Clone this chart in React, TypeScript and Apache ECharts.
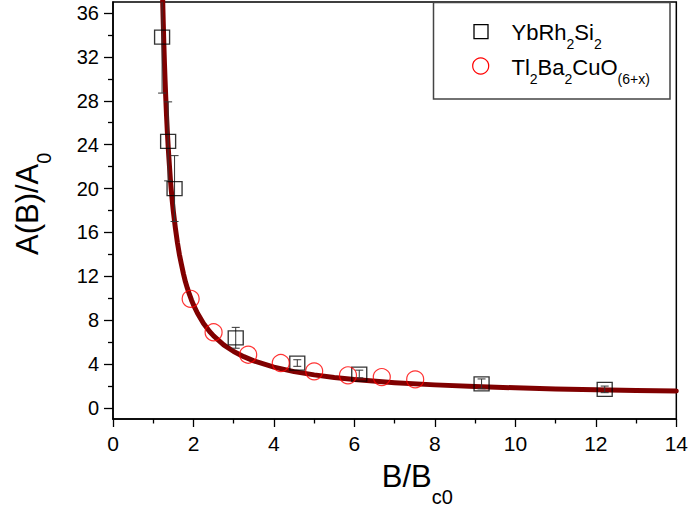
import React, { useEffect, useRef } from "react";
import * as echarts from "echarts";

// YbRh2Si2 (squares with error bars)
const ybX = [1.22, 1.37, 1.53, 3.05, 4.58, 6.12, 9.16, 12.22];
const ybY = [33.8, 24.3, 20.0, 6.4, 4.1, 3.1, 2.2, 1.7];
const ybErr = [5.1, 3.6, 3.0, 0.95, 0.3, 0.35, 0.45, 0.3];

// Tl2Ba2CuO(6+x) (open circles)
const tlX = [1.93, 2.5, 3.36, 4.17, 5.0, 5.84, 6.68, 7.51];
const tlY = [9.95, 6.9, 4.86, 4.1, 3.34, 2.98, 2.82, 2.61];

// fit curve
const fitX = [1.21, 1.22, 1.23, 1.24, 1.25, 1.265, 1.28, 1.295, 1.31, 1.33, 1.35, 1.375, 1.4, 1.425, 1.45, 1.475, 1.5, 1.55, 1.6, 1.65, 1.7, 1.75, 1.8, 1.85, 1.9, 1.95, 2.0, 2.1, 2.25, 2.4, 2.5, 2.75, 3.0, 3.25, 3.5, 4.0, 4.5, 5, 5.5, 6, 7, 8, 9, 10, 11, 12, 13, 14];
const fitY = [41.5, 39.6, 37.9, 36.4, 35.0, 33.0, 31.3, 29.8, 28.4, 26.7, 25.2, 23.6, 22.2, 20.9, 19.8, 18.8, 17.9, 16.4, 15.1, 14.0, 13.1, 12.25, 11.5, 10.9, 10.35, 9.85, 9.4, 8.64, 7.7, 6.97, 6.57, 5.76, 5.15, 4.68, 4.3, 3.73, 3.32, 3.02, 2.78, 2.59, 2.31, 2.11, 1.96, 1.84, 1.74, 1.66, 1.6, 1.55];

const yMajorTicks = [0, 4, 8, 12, 16, 20, 24, 28, 32, 36];
const yMinorTicks = [2, 6, 10, 14, 18, 22, 26, 30, 34];

const FONT = "'Liberation Sans', Arial, Helvetica, sans-serif";

export default function App() {
  const ref = useRef<HTMLDivElement>(null);
  useEffect(() => {
    if (!ref.current) return;
    const chart = echarts.init(ref.current, undefined, { renderer: "svg" });
    const ybData = ybX.map((x, i) => [x, ybY[i]]);
    const tlData = tlX.map((x, i) => [x, tlY[i]]);
    const errData = ybX.map((x, i) => [x, ybY[i], ybY[i] - ybErr[i], ybY[i] + ybErr[i]]);
    const fitData = fitX.map((x, i) => [x, fitY[i]]);

    const option: any = {
      animation: false,
      backgroundColor: "#fff",
      textStyle: { fontFamily: FONT },
      grid: {
        left: 113,
        right: 13.5,
        top: 2,
        bottom: 90,
        show: true,
        borderColor: "#000",
        borderWidth: 1.5,
        backgroundColor: "transparent",
      },
      xAxis: {
        type: "value",
        min: 0,
        max: 14,
        interval: 2,
        axisLine: { onZero: false, lineStyle: { color: "#000", width: 1.5 } },
        axisTick: { show: true, inside: false, length: 8, lineStyle: { color: "#000", width: 1.3 } },
        minorTick: { show: true, splitNumber: 2, length: 4.5, lineStyle: { color: "#000", width: 1.3 } },
        splitLine: { show: false },
        minorSplitLine: { show: false },
        axisLabel: { color: "#000", fontSize: 21, fontFamily: FONT, margin: 14 },
      },
      yAxis: [
        {
          type: "value",
          min: -1,
          max: 37,
          axisLine: { onZero: false, lineStyle: { color: "#000", width: 1.5 } },
          axisTick: {
            show: true,
            inside: false,
            length: 9,
            customValues: yMajorTicks,
            lineStyle: { color: "#000", width: 1.3 },
          },
          axisLabel: {
            color: "#000",
            fontSize: 20,
            fontFamily: FONT,
            margin: 14,
            customValues: yMajorTicks,
          },
          splitLine: { show: false },
        },
        {
          type: "value",
          min: -1,
          max: 37,
          position: "left",
          offset: 0,
          axisLine: { show: false },
          axisLabel: { show: false },
          axisTick: {
            show: true,
            inside: false,
            length: 5,
            customValues: yMinorTicks,
            lineStyle: { color: "#000", width: 1.3 },
          },
          splitLine: { show: false },
        },
      ],
      series: [
        {
          name: "fit",
          type: "line",
          data: fitData,
          showSymbol: false,
          smooth: false,
          clip: true,
          lineStyle: { color: "#800000", width: 5, join: "round", cap: "round" },
          z: 2,
        },
        {
          name: "YbRh2Si2 error",
          type: "custom",
          clip: true,
          data: errData,
          encode: { x: 0, y: 1 },
          z: 3,
          renderItem: (params: any, api: any) => {
            const x = api.value(0);
            const lo = api.coord([x, api.value(2)]);
            const hi = api.coord([x, api.value(3)]);
            const hw = 4;
            const style = { stroke: "#333", lineWidth: 1 };
            return {
              type: "group",
              children: [
                { type: "line", shape: { x1: lo[0], y1: lo[1], x2: hi[0], y2: hi[1] }, style },
                { type: "line", shape: { x1: lo[0] - hw, y1: lo[1], x2: lo[0] + hw, y2: lo[1] }, style },
                { type: "line", shape: { x1: hi[0] - hw, y1: hi[1], x2: hi[0] + hw, y2: hi[1] }, style },
              ],
            };
          },
        },
        {
          name: "YbRh2Si2",
          type: "scatter",
          data: ybData,
          symbol: "rect",
          symbolSize: [15, 14],
          itemStyle: { color: "rgba(0,0,0,0)", borderColor: "#000", borderWidth: 1.3 },
          z: 4,
        },
        {
          name: "Tl2Ba2CuO(6+x)",
          type: "scatter",
          data: tlData,
          symbol: "circle",
          symbolSize: 17,
          itemStyle: { color: "rgba(0,0,0,0)", borderColor: "#ff0000", borderWidth: 1.2 },
          z: 4,
        },
      ],
      graphic: [
        // x-axis title
        {
          type: "text",
          x: 381.7,
          y: 476.8,
          style: {
            text: "{a|B/B}{b|c0}",
            align: "left",
            verticalAlign: "middle",
            rich: {
              a: { fontSize: 31, fontFamily: FONT, fill: "#000" },
              b: { fontSize: 20, fontFamily: FONT, fill: "#000", padding: [40, 0, 0, 0] },
            },
          },
        },
        // y-axis title
        {
          type: "text",
          x: 27,
          y: 255,
          rotation: Math.PI / 2,
          style: {
            text: "{a|A(B)/A}{b|0}",
            align: "left",
            verticalAlign: "middle",
            rich: {
              a: { fontSize: 31, fontFamily: FONT, fill: "#000" },
              b: { fontSize: 20, fontFamily: FONT, fill: "#000", padding: [34, 0, 0, 0] },
            },
          },
        },
        // legend box
        {
          type: "rect",
          shape: { x: 433.5, y: 2.5, width: 236.5, height: 96.5 },
          style: { fill: "#fff", stroke: "#444", lineWidth: 1.5 },
          z: 100,
        },
        {
          type: "rect",
          shape: { x: 474, y: 24.7, width: 14, height: 14 },
          style: { fill: "none", stroke: "#000", lineWidth: 1.3 },
          z: 101,
        },
        {
          type: "circle",
          shape: { cx: 480.7, cy: 66, r: 8 },
          style: { fill: "none", stroke: "#ff0000", lineWidth: 1.2 },
          z: 101,
        },
        {
          type: "text",
          x: 511.5,
          y: 32.8,
          z: 101,
          style: {
            text: "{a|YbRh}{b|2}{a|Si}{b|2}",
            align: "left",
            verticalAlign: "middle",
            rich: {
              a: { fontSize: 22, fontFamily: FONT, fill: "#000" },
              b: { fontSize: 14, fontFamily: FONT, fill: "#000", padding: [22, 0, 0, 0] },
            },
          },
        },
        {
          type: "text",
          x: 511.5,
          y: 67.3,
          z: 101,
          style: {
            text: "{a|Tl}{b|2}{a|Ba}{b|2}{a|CuO}{b|(6+x)}",
            align: "left",
            verticalAlign: "middle",
            rich: {
              a: { fontSize: 22, fontFamily: FONT, fill: "#000" },
              b: { fontSize: 14, fontFamily: FONT, fill: "#000", padding: [24, 0, 0, 0] },
            },
          },
        },
      ],
    };
    chart.setOption(option);
    return () => chart.dispose();
  }, []);
  return (
    <div
      ref={ref}
      style={{ position: "fixed", left: 0, top: 0, width: 691, height: 509, background: "#fff" }}
    />
  );
}
